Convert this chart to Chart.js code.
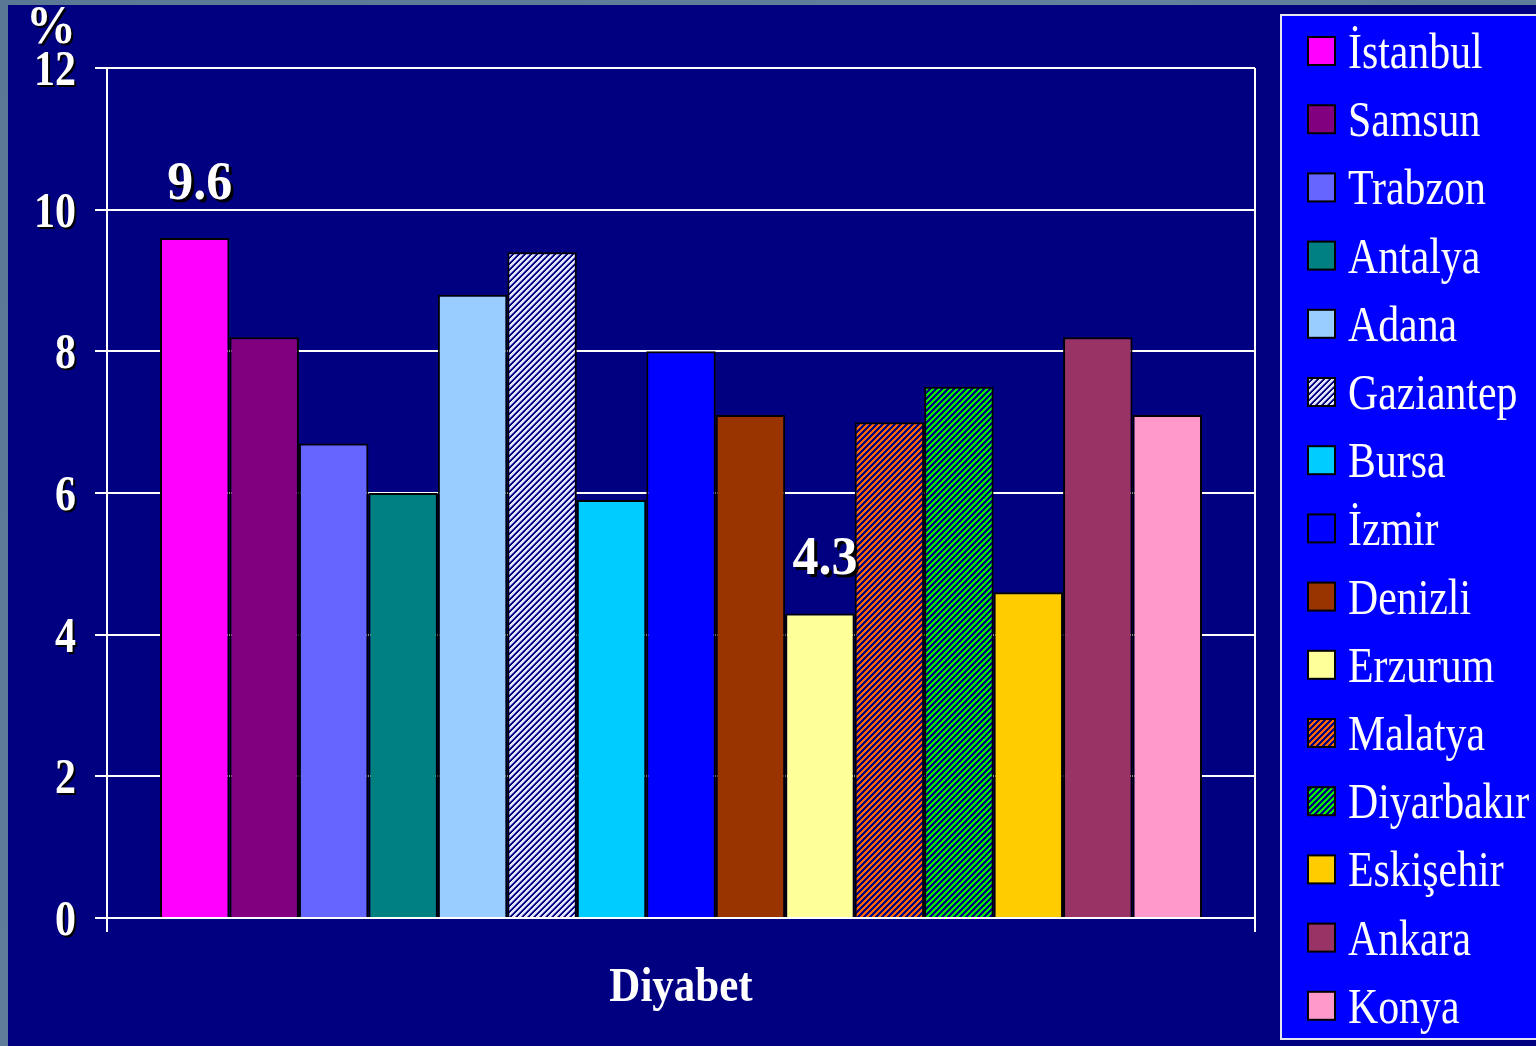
<!DOCTYPE html>
<html>
<head>
<meta charset="utf-8">
<title>Diyabet</title>
<script src="https://cdn.jsdelivr.net/npm/chart.js@4/dist/chart.umd.min.js"></script>
<style>
  html, body { margin: 0; padding: 0; background: #5d7b99; overflow: hidden; }
  canvas { display: block; }
</style>
</head>
<body>
<canvas id="c" width="1536" height="1046"></canvas>
<script>
// ---- data ----
const category = ['Diyabet'];
const cities = ['İstanbul', 'Samsun', 'Trabzon', 'Antalya', 'Adana', 'Gaziantep', 'Bursa',
  'İzmir', 'Denizli', 'Erzurum', 'Malatya', 'Diyarbakır', 'Eskişehir', 'Ankara', 'Konya'];
const values = [9.6, 8.2, 6.7, 6.0, 8.8, 9.4, 5.9, 8.0, 7.1, 4.3, 7.0, 7.5, 4.6, 8.2, 7.1];
const labelledCities = ['İstanbul', 'Erzurum'];
const yMin = 0, yMax = 12, yStep = 2;
const yUnit = '%';

// ---- fills ----
function stripes(fg, bg, mid) {
  const s = 6;
  const t = document.createElement('canvas');
  t.width = s; t.height = s;
  const g = t.getContext('2d');
  for (let y = 0; y < s; y++) {
    for (let x = 0; x < s; x++) {
      const k = (x + y) % s;
      g.fillStyle = k < 3 ? fg : (k === 3 && mid ? mid : bg);
      g.fillRect(x, y, 1, 1);
    }
  }
  return document.getElementById('c').getContext('2d').createPattern(t, 'repeat');
}
const fills = [
  '#ff00ff', '#800080', '#6666ff', '#008080', '#99ccff',
  stripes('#e4e4ff', '#000080', '#7070c0'),
  '#00ccff', '#0000ff', '#993300', '#ffff99',
  stripes('#ff6600', '#000080'),
  stripes('#00ee00', '#000080'),
  '#ffcc00', '#993366', '#ff99cc'
];

// ---- text helper: serif text slightly stretched vertically, optional drop shadow ----
function drawText(ctx, text, x, y, font, align, sy, shadow) {
  ctx.save();
  ctx.font = font;
  ctx.textAlign = align;
  ctx.textBaseline = 'alphabetic';
  ctx.translate(x, y);
  ctx.scale(1, sy);
  if (shadow) {
    ctx.fillStyle = '#000000';
    ctx.fillText(text, shadow, shadow / sy);
  }
  ctx.fillStyle = '#ffffff';
  ctx.fillText(text, 0, 0);
  ctx.restore();
}

// ---- backgrounds: frame, navy slide, legend panel ----
const backdrop = {
  id: 'backdrop',
  beforeDraw(chart) {
    const ctx = chart.ctx;
    ctx.save();
    const gr = ctx.createLinearGradient(0, 0, 1536, 1046);
    gr.addColorStop(0, '#5a7896');
    gr.addColorStop(0.5, '#62809e');
    gr.addColorStop(1, '#587694');
    ctx.fillStyle = gr;
    ctx.fillRect(0, 0, 1536, 1046);
    ctx.fillStyle = '#000080';
    ctx.fillRect(8, 5, 1528, 1041);
    // legend panel
    ctx.fillStyle = '#0000ff';
    ctx.fillRect(1280, 14, 270, 1026);
    ctx.strokeStyle = '#e6e6f0';
    ctx.lineWidth = 2;
    ctx.strokeRect(1281, 15, 270, 1024);
    ctx.restore();
  }
};

// ---- labels, value tags and legend ----
const annotations = {
  id: 'annotations',
  afterDraw(chart) {
    const ctx = chart.ctx;
    const ys = chart.scales.y;
    const xs = chart.scales.x;
    const area = chart.chartArea;

    // y tick labels
    ys.ticks.forEach(t => {
      const py = ys.getPixelForValue(t.value);
      drawText(ctx, String(t.value), area.left - 31, py + 17,
        'bold 42px "Liberation Serif", "Times New Roman", serif', 'right', 1.2, 2);
    });

    // unit above the axis
    drawText(ctx, yUnit, 51, 43, 'bold 50px "Liberation Serif", serif', 'center', 1.08, 2);

    // category label
    category.forEach((c, i) => {
      const px = xs.getPixelForValue(i);
      drawText(ctx, c, px, 1001, 'bold 43px "Liberation Serif", serif', 'center', 1.12, 0);
    });

    // value tags
    chart.data.datasets.forEach((ds, di) => {
      if (!labelledCities.includes(ds.label)) return;
      const el = chart.getDatasetMeta(di).data[0];
      drawText(ctx, ds.data[0].toFixed(1), el.x + 5, el.y - 39,
        'bold 52px "Liberation Serif", serif', 'center', 1.05, 3);
    });

    // legend
    chart.data.datasets.forEach((ds, i) => {
      const cy = 51 + i * 68.2;
      ctx.save();
      ctx.fillStyle = ds.backgroundColor;
      ctx.fillRect(1308, cy - 14, 27, 28);
      ctx.strokeStyle = '#000000';
      ctx.lineWidth = 2;
      ctx.strokeRect(1308, cy - 14, 27, 28);
      ctx.restore();
      drawText(ctx, ds.label, 1348, cy + 17, '41.8px "Liberation Serif", serif', 'left', 1.22, 0);
    });
  }
};

const datasets = cities.map((name, i) => ({
  label: name,
  data: [values[i]],
  backgroundColor: fills[i],
  borderColor: '#000000',
  borderWidth: 2,
  categoryPercentage: 0.9077,
  barPercentage: 1.0
}));

new Chart(document.getElementById('c'), {
  type: 'bar',
  data: { labels: category, datasets },
  plugins: [backdrop, annotations],
  options: {
    responsive: false,
    animation: false,
    devicePixelRatio: 1,
    layout: { padding: { left: 0, top: 68, right: 281, bottom: 0 } },
    plugins: { legend: { display: false }, tooltip: { enabled: false } },
    scales: {
      x: {
        offset: true,
        ticks: { display: false },
        grid: { offset: true, color: '#ffffff', lineWidth: 2, tickLength: 14, drawTicks: true },
        border: { display: true, color: '#ffffff', width: 2 },
        afterFit(s) { s.height = 128; }
      },
      y: {
        min: yMin, max: yMax,
        ticks: { stepSize: yStep, display: false },
        grid: { color: '#ffffff', lineWidth: 2, tickLength: 12, drawTicks: true },
        border: { display: true, color: '#ffffff', width: 2 },
        afterFit(s) { s.width = 107; }
      }
    }
  }
});
</script>
</body>
</html>
